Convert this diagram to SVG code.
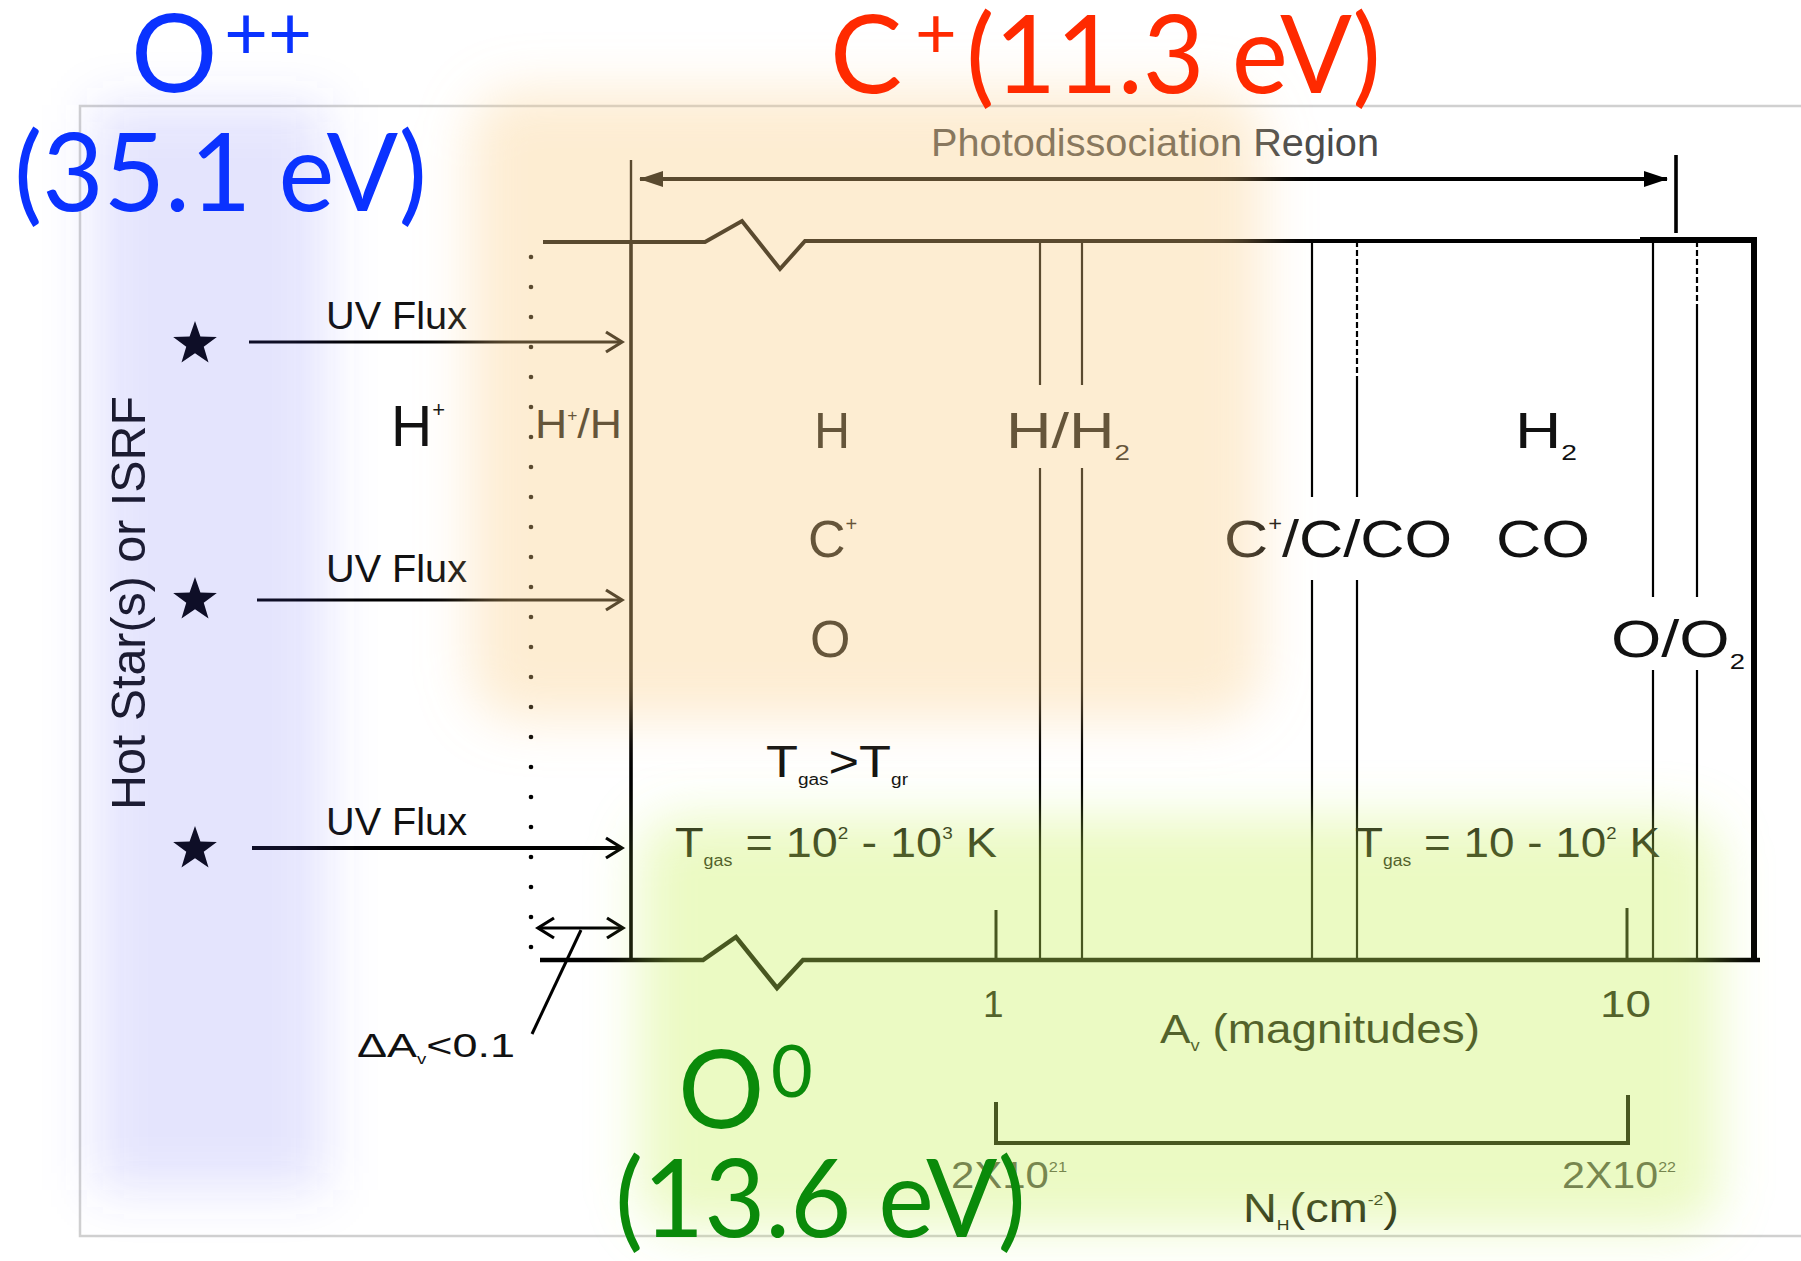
<svg xmlns="http://www.w3.org/2000/svg" width="1801" height="1261" viewBox="0 0 1801 1261">
<defs>
<style>
.t{font-family:"Liberation Sans",Arial,sans-serif;fill:#111}
.g{fill:#4a4a4a}
.big{font-family:Lato,"Open Sans",sans-serif}
.ln{stroke:#000;fill:none;stroke-linejoin:miter}
.thin{stroke:#000;fill:none;stroke-width:2.2}
.dot{fill:#000}
</style>
<filter id="blur" x="-50%" y="-50%" width="200%" height="200%"><feGaussianBlur stdDeviation="26"/></filter>
<marker id="chev" viewBox="0 0 24 24" refX="21" refY="12" markerWidth="24" markerHeight="24" markerUnits="userSpaceOnUse" orient="auto-start-reverse">
<path d="M5,2 L21,12 L5,22" fill="none" stroke="#000" stroke-width="3.2"/>
</marker>
<marker id="tri" viewBox="0 0 24 18" refX="23" refY="9" markerWidth="24" markerHeight="18" markerUnits="userSpaceOnUse" orient="auto-start-reverse">
<path d="M0,1 L24,9 L0,17 z" fill="#000"/>
</marker>
<path id="star" d="M0,-23 L5.41,-7.44 L21.87,-7.11 L8.75,2.84 L13.52,18.61 L0,9.2 L-13.52,18.61 L-8.75,2.84 L-21.87,-7.11 L-5.41,-7.44 Z"/>
</defs>
<rect width="1801" height="1261" fill="#fff"/>
<rect id="frame" x="80" y="106" width="1760" height="1130" fill="none" stroke="#d0d0d0" stroke-width="2.5"/>

<g id="sources">
<use href="#star" x="195" y="344" fill="#000"/>
<use href="#star" x="195" y="600" fill="#000"/>
<use href="#star" x="195" y="849" fill="#000"/>
<text class="t" transform="translate(145,603) rotate(-90)" font-size="48" text-anchor="middle" textLength="414" lengthAdjust="spacingAndGlyphs">Hot Star(s) or ISRF</text>
</g>

<g id="box">
<line class="ln" x1="631" y1="160" x2="631" y2="242" stroke-width="2.4"/>
<line class="ln" x1="631" y1="242" x2="631" y2="961" stroke-width="3.6"/>
<line class="ln" x1="1676" y1="155" x2="1676" y2="233" stroke-width="3.6"/>
<polyline class="ln" points="543,242 705,242 742,221 780,269 805,241 1645,241" stroke-width="4"/>
<line class="ln" x1="1640" y1="240" x2="1757" y2="240" stroke-width="6"/>
<line class="ln" x1="1754" y1="237" x2="1754" y2="962" stroke-width="6"/>
<polyline class="ln" points="540,960 703,960 736,937 777,988 803,960 1760,960" stroke-width="4.5"/>
<line class="thin" x1="1040" y1="241" x2="1040" y2="385"/>
<line class="thin" x1="1040" y1="468" x2="1040" y2="960"/>
<line class="thin" x1="1082" y1="241" x2="1082" y2="385"/>
<line class="thin" x1="1082" y1="468" x2="1082" y2="960"/>
<line class="thin" x1="1312" y1="241" x2="1312" y2="497"/>
<line class="thin" x1="1312" y1="580" x2="1312" y2="960"/>
<line class="thin" x1="1357" y1="241" x2="1357" y2="380" stroke-dasharray="6,3" stroke="#444"/>
<line class="thin" x1="1357" y1="380" x2="1357" y2="497"/>
<line class="thin" x1="1357" y1="580" x2="1357" y2="960"/>
<line class="thin" x1="1653" y1="241" x2="1653" y2="597"/>
<line class="thin" x1="1653" y1="670" x2="1653" y2="958"/>
<line class="thin" x1="1697" y1="241" x2="1697" y2="310" stroke-dasharray="6,3" stroke="#444"/>
<line class="thin" x1="1697" y1="310" x2="1697" y2="597"/>
<line class="thin" x1="1697" y1="670" x2="1697" y2="958"/>
<line class="ln" x1="996" y1="910" x2="996" y2="960" stroke-width="3"/>
<line class="ln" x1="1627" y1="908" x2="1627" y2="960" stroke-width="3"/>
<polyline class="ln" points="996,1102 996,1143 1628,1143 1628,1095" stroke-width="4"/>
</g>

<g id="dotted-edge">
<circle class="dot" cx="531" cy="257" r="2.3"/><circle class="dot" cx="531" cy="287" r="2.3"/><circle class="dot" cx="531" cy="317" r="2.3"/><circle class="dot" cx="531" cy="347" r="2.3"/><circle class="dot" cx="531" cy="377" r="2.3"/><circle class="dot" cx="531" cy="407" r="2.3"/><circle class="dot" cx="531" cy="437" r="2.3"/><circle class="dot" cx="531" cy="467" r="2.3"/><circle class="dot" cx="531" cy="497" r="2.3"/><circle class="dot" cx="531" cy="527" r="2.3"/><circle class="dot" cx="531" cy="557" r="2.3"/><circle class="dot" cx="531" cy="587" r="2.3"/><circle class="dot" cx="531" cy="617" r="2.3"/><circle class="dot" cx="531" cy="647" r="2.3"/><circle class="dot" cx="531" cy="677" r="2.3"/><circle class="dot" cx="531" cy="707" r="2.3"/><circle class="dot" cx="531" cy="737" r="2.3"/><circle class="dot" cx="531" cy="767" r="2.3"/><circle class="dot" cx="531" cy="797" r="2.3"/><circle class="dot" cx="531" cy="827" r="2.3"/><circle class="dot" cx="531" cy="857" r="2.3"/><circle class="dot" cx="531" cy="887" r="2.3"/><circle class="dot" cx="531" cy="917" r="2.3"/><circle class="dot" cx="531" cy="947" r="2.3"/>
</g>

<g id="connectors">
<line class="ln" x1="640" y1="179" x2="1667" y2="179" stroke-width="4" marker-start="url(#tri)" marker-end="url(#tri)"/>
<line class="ln" x1="249" y1="342" x2="622" y2="342" stroke-width="3" marker-end="url(#chev)"/>
<line class="ln" x1="257" y1="600" x2="622" y2="600" stroke-width="3" marker-end="url(#chev)"/>
<line class="ln" x1="252" y1="848" x2="622" y2="848" stroke-width="4" marker-end="url(#chev)"/>
<line class="ln" x1="538" y1="928" x2="623" y2="928" stroke-width="3" marker-start="url(#chev)" marker-end="url(#chev)"/>
<line class="ln" x1="581" y1="930" x2="532" y2="1034" stroke-width="3"/>
</g>

<g id="labels">
<text class="t g" x="931" y="156" font-size="39" textLength="448" lengthAdjust="spacingAndGlyphs">Photodissociation Region</text>
<text class="t" x="326" y="329" font-size="39" textLength="141" lengthAdjust="spacingAndGlyphs">UV Flux</text>
<text class="t" x="326" y="582" font-size="39" textLength="141" lengthAdjust="spacingAndGlyphs">UV Flux</text>
<text class="t" x="326" y="835" font-size="39" textLength="141" lengthAdjust="spacingAndGlyphs">UV Flux</text>
<text class="t" x="391" y="446" font-size="57">H<tspan font-size="22" dy="-29">+</tspan></text>
<text class="t" x="535" y="438" font-size="41" textLength="87" lengthAdjust="spacingAndGlyphs">H<tspan font-size="16" dy="-17">+</tspan><tspan dy="17">/H</tspan></text>
<text class="t" x="814" y="448" font-size="50">H</text>
<text class="t" x="808" y="557" font-size="52">C<tspan font-size="20" dy="-26">+</tspan></text>
<text class="t" x="810" y="657" font-size="52">O</text>
<text class="t" x="1006" y="448" font-size="50" textLength="124" lengthAdjust="spacingAndGlyphs">H/H<tspan font-size="22" dy="12">2</tspan></text>
<text class="t" x="1515" y="448" font-size="50" textLength="62" lengthAdjust="spacingAndGlyphs">H<tspan font-size="22" dy="12">2</tspan></text>
<text class="t" x="1224" y="557" font-size="52" textLength="228" lengthAdjust="spacingAndGlyphs">C<tspan font-size="20" dy="-26">+</tspan><tspan dy="26">/C/CO</tspan></text>
<text class="t" x="1496" y="557" font-size="52" textLength="94" lengthAdjust="spacingAndGlyphs">CO</text>
<text class="t" x="1611" y="657" font-size="52" textLength="134" lengthAdjust="spacingAndGlyphs">O/O<tspan font-size="22" dy="12">2</tspan></text>
<text class="t" x="766" y="777" font-size="44" textLength="142" lengthAdjust="spacingAndGlyphs">T<tspan font-size="16" dy="8">gas</tspan><tspan dy="-8">&gt;T</tspan><tspan font-size="16" dy="8">gr</tspan></text>
<text class="t" x="675" y="857" font-size="42" textLength="322" lengthAdjust="spacingAndGlyphs">T<tspan font-size="16" dy="9">gas</tspan><tspan dy="-9"> = 10</tspan><tspan font-size="17" dy="-18">2</tspan><tspan dy="18"> - 10</tspan><tspan font-size="17" dy="-18">3</tspan><tspan dy="18"> K</tspan></text>
<text class="t" x="1355" y="857" font-size="42" textLength="305" lengthAdjust="spacingAndGlyphs">T<tspan font-size="16" dy="9">gas</tspan><tspan dy="-9"> = 10 - 10</tspan><tspan font-size="17" dy="-18">2</tspan><tspan dy="18"> K</tspan></text>
<text class="t" x="983" y="1017" font-size="37">1</text>
<text class="t" x="1600" y="1017" font-size="37" textLength="51" lengthAdjust="spacingAndGlyphs">10</text>
<text class="t" x="1160" y="1043" font-size="40" textLength="320" lengthAdjust="spacingAndGlyphs">A<tspan font-size="16" dy="8">v</tspan><tspan dy="-8"> (magnitudes)</tspan></text>
<text class="t g" x="951" y="1188" font-size="36" textLength="116" lengthAdjust="spacingAndGlyphs">2X10<tspan font-size="14" dy="-16">21</tspan></text>
<text class="t g" x="1562" y="1188" font-size="36" textLength="114" lengthAdjust="spacingAndGlyphs">2X10<tspan font-size="14" dy="-16">22</tspan></text>
<text class="t" x="1243" y="1222" font-size="40" textLength="156" lengthAdjust="spacingAndGlyphs">N<tspan font-size="15" dy="8">H</tspan><tspan dy="-8">(cm</tspan><tspan font-size="15" dy="-17">-2</tspan><tspan dy="17">)</tspan></text>
<text class="t" x="357" y="1057" font-size="34" textLength="158" lengthAdjust="spacingAndGlyphs">ΔA<tspan font-size="14" dy="7">v</tspan><tspan dy="-7">&lt;0.1</tspan></text>
</g>

<g id="glows">
<rect x="95" y="105" width="230" height="1085" fill="rgb(90,90,240)" fill-opacity="0.16" filter="url(#blur)"/>
<rect x="470" y="90" width="792" height="630" rx="50" fill="rgb(250,205,130)" fill-opacity="0.36" filter="url(#blur)"/>
<rect x="640" y="818" width="1078" height="410" rx="40" fill="rgb(200,240,90)" fill-opacity="0.36" filter="url(#blur)"/>
</g>

<g id="ion-O2plus">
<text class="big" fill="#0a32ff"><tspan x="131" y="92" font-size="108">O</tspan><tspan x="224" y="60" font-size="76">++</tspan></text>
<text class="big" fill="#0a32ff" x="14" y="211" font-size="108" textLength="413" lengthAdjust="spacingAndGlyphs">(35.1 eV)</text>
</g>
<g id="ion-Cplus">
<text class="big" fill="#ff2a00"><tspan x="830" y="93" font-size="108">C</tspan><tspan x="915" y="58" font-size="72">+</tspan></text>
<text class="big" fill="#ff2a00" x="966" y="93" font-size="108" textLength="415" lengthAdjust="spacingAndGlyphs">(11.3 eV)</text>
</g>
<g id="ion-O0">
<text class="big" fill="#0a8a0a"><tspan x="678" y="1128" font-size="108">O</tspan><tspan x="771" y="1097" font-size="72">0</tspan></text>
<text class="big" fill="#0a8a0a" x="615" y="1237" font-size="108" textLength="411" lengthAdjust="spacingAndGlyphs">(13.6 eV)</text>
</g>
</svg>
